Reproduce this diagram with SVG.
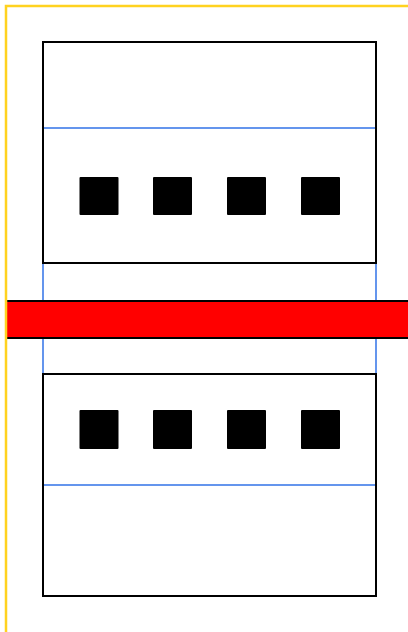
<svg xmlns="http://www.w3.org/2000/svg" width="408" height="632" viewBox="0 0 408 632">
<style>
.box{fill:none;stroke:#000;stroke-width:2}
.blue{fill:none;stroke:#6495ED;stroke-width:2}
.sq{fill:#000}
</style>
<rect width="408" height="632" fill="#fff"/>
<g id="blue-frame">
<rect class="blue" x="43" y="128" width="333" height="357"/>
</g>
<g id="top-block">
<rect class="box" x="43" y="42" width="333" height="221"/>
<rect class="sq" x="79.5" y="177" width="39" height="38" rx="1"/>
<rect class="sq" x="153" y="177" width="39" height="38" rx="1"/>
<rect class="sq" x="227" y="177" width="39" height="38" rx="1"/>
<rect class="sq" x="301" y="177" width="39" height="38" rx="1"/>
</g>
<g id="bottom-block">
<rect class="box" x="43" y="374" width="333" height="222"/>
<rect class="sq" x="79.5" y="410" width="39" height="39" rx="1"/>
<rect class="sq" x="153" y="410" width="39" height="39" rx="1"/>
<rect class="sq" x="227" y="410" width="39" height="39" rx="1"/>
<rect class="sq" x="301" y="410" width="39" height="39" rx="1"/>
</g>
<g id="red-bar">
<rect x="6" y="301" width="404" height="37" fill="#f00" stroke="#000" stroke-width="2"/>
</g>
<g id="yellow-frame">
<polyline points="6,632 6,6 408,6" fill="none" stroke="#FFD21F" stroke-width="2.5"/>
</g>
</svg>
